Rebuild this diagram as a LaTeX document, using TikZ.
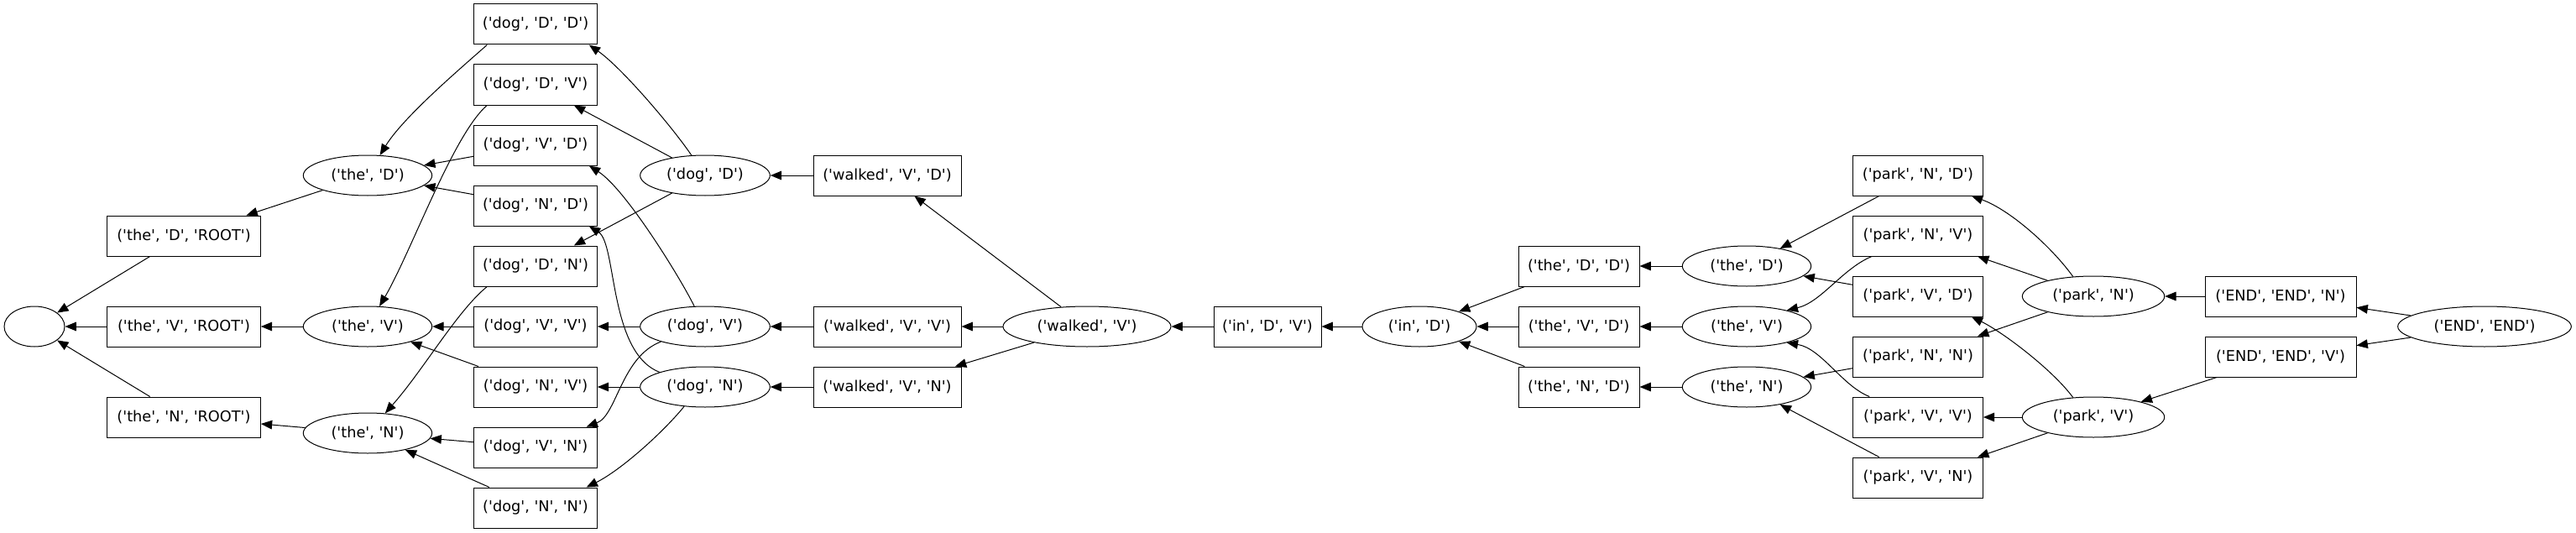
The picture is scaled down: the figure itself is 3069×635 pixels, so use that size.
\documentclass[tikz,border=0pt]{standalone}
\usepackage{fontspec}
\newfontfamily\gvfont{DejaVu Sans}
\usetikzlibrary{arrows.meta,shapes.geometric}
\newcommand{\gvtext}[1]{\makebox[0pt]{#1}}

\begin{document}
\begin{tikzpicture}[x=0.75pt,y=-0.75pt,
	box/.style={draw,rectangle,minimum width=#1,minimum height=36pt,inner sep=0pt},
	oval/.style={draw,ellipse,minimum width=#1,minimum height=36pt,inner sep=0pt},
	conn/.style={draw,line width=0.75pt,-{Triangle[length=10pt,width=8pt]}},
	every node/.style={font=\gvfont\fontsize{13.3}{16}\selectfont,line width=0.75pt}]
	\useasboundingbox (0,0) rectangle (3069,635);
	% start side
	\node at (41,389)[oval=54pt] (root) {};
	\node at (219,281)[box=137pt] (theDR) {('the', 'D', 'ROOT')};
	\node at (219,389)[box=137pt] (theVR) {('the', 'V', 'ROOT')};
	\node at (219,497)[box=137pt] (theNR) {('the', 'N', 'ROOT')};
	\node at (438,209)[oval=115pt] (theD) {\gvtext{('the', 'D')}};
	\node at (438,389)[oval=115pt] (theV) {\gvtext{('the', 'V')}};
	\node at (438,516)[oval=115pt] (theN) {\gvtext{('the', 'N')}};
	% dog
	\node at (638,29)[box=110pt] (dogDD) {('dog', 'D', 'D')};
	\node at (638,101)[box=110pt] (dogDV) {('dog', 'D', 'V')};
	\node at (638,173)[box=110pt] (dogVD) {('dog', 'V', 'D')};
	\node at (638,245)[box=110pt] (dogND) {('dog', 'N', 'D')};
	\node at (638,317)[box=110pt] (dogDN) {('dog', 'D', 'N')};
	\node at (638,389)[box=110pt] (dogVV) {('dog', 'V', 'V')};
	\node at (638,461)[box=110pt] (dogNV) {('dog', 'N', 'V')};
	\node at (638,533)[box=110pt] (dogVN) {('dog', 'V', 'N')};
	\node at (638,605)[box=110pt] (dogNN) {('dog', 'N', 'N')};
	\node at (840,209)[oval=116pt] (dogD) {\gvtext{('dog', 'D')}};
	\node at (840,389)[oval=116pt] (dogV) {\gvtext{('dog', 'V')}};
	\node at (840,461)[oval=116pt] (dogN) {\gvtext{('dog', 'N')}};
	% walked, in
	\node at (1057,209)[box=132pt] (walkedVD) {('walked', 'V', 'D')};
	\node at (1057,389)[box=132pt] (walkedVV) {('walked', 'V', 'V')};
	\node at (1057,461)[box=132pt] (walkedVN) {('walked', 'V', 'N')};
	\node at (1295,389)[oval=150pt] (walkedV) {\gvtext{('walked', 'V')}};
	\node at (1510,389)[box=96pt] (inDV) {('in', 'D', 'V')};
	\node at (1691,389)[oval=102pt] (inD) {\gvtext{('in', 'D')}};
	% the (second)
	\node at (1881,317)[box=108pt] (theDD) {('the', 'D', 'D')};
	\node at (1881,389)[box=108pt] (theVD) {('the', 'V', 'D')};
	\node at (1881,461)[box=108pt] (theND) {('the', 'N', 'D')};
	\node at (2081,317)[oval=115pt] (theDb) {\gvtext{('the', 'D')}};
	\node at (2081,389)[oval=115pt] (theVb) {\gvtext{('the', 'V')}};
	\node at (2081,461)[oval=115pt] (theNb) {\gvtext{('the', 'N')}};
	% park, end
	\node at (2285,209)[box=116pt] (parkND) {('park', 'N', 'D')};
	\node at (2285,281)[box=116pt] (parkNV) {('park', 'N', 'V')};
	\node at (2285,353)[box=116pt] (parkVD) {('park', 'V', 'D')};
	\node at (2285,425)[box=116pt] (parkNN) {('park', 'N', 'N')};
	\node at (2285,497)[box=116pt] (parkVV) {('park', 'V', 'V')};
	\node at (2285,569)[box=116pt] (parkVN) {('park', 'V', 'N')};
	\node at (2494,353)[oval=127pt] (parkN) {\gvtext{('park', 'N')}};
	\node at (2494,497)[oval=127pt] (parkV) {\gvtext{('park', 'V')}};
	\node at (2717,353)[box=135pt] (endN) {('END', 'END', 'N')};
	\node at (2717,425)[box=135pt] (endV) {('END', 'END', 'V')};
	\node at (2960,389)[oval=155pt] (endend) {\gvtext{('END', 'END')}};

	\draw[conn] (theDR) -- (root);
	\draw[conn] (theVR) -- (root);
	\draw[conn] (theNR) -- (root);
	\draw[conn] (theD) -- (theDR);
	\draw[conn] (theV) -- (theVR);
	\draw[conn] (theN) -- (theNR);
	\draw[conn] (dogDD.203) .. controls (548,82) and (480,140) .. (theD);
	\draw[conn] (dogDV.203) .. controls (540,160) and (490,300) .. (theV);
	\draw[conn] (dogDN.203) .. controls (545,370) and (505,440) .. (theN);
	\draw[conn] (dogVD) -- (theD);
	\draw[conn] (dogND) -- (theD);
	\draw[conn] (dogVV) -- (theV);
	\draw[conn] (dogNV) -- (theV);
	\draw[conn] (dogVN) -- (theN);
	\draw[conn] (dogNN) -- (theN);
	\draw[conn] (dogD.124) .. controls (800,150) and (740,80) .. (dogDD.-21);
	\draw[conn] (dogD) -- (dogDV);
	\draw[conn] (dogD) -- (dogDN);
	\draw[conn] (dogV.118) .. controls (810,330) and (745,225) .. (dogVD.-21);
	\draw[conn] (dogV) -- (dogVV);
	\draw[conn] (dogV.199) .. controls (740,425) and (735,495) .. (dogVN.22);
	\draw[conn] (dogN.162) .. controls (725,420) and (735,290) .. (dogND.-21);
	\draw[conn] (dogN) -- (dogNV);
	\draw[conn] (dogN.223) .. controls (790,515) and (740,560) .. (dogNN.22);
	\draw[conn] (walkedVD) -- (dogD);
	\draw[conn] (walkedVV) -- (dogV);
	\draw[conn] (walkedVN) -- (dogN);
	\draw[conn] (walkedV) -- (walkedVD);
	\draw[conn] (walkedV) -- (walkedVV);
	\draw[conn] (walkedV) -- (walkedVN);
	\draw[conn] (inDV) -- (walkedV);
	\draw[conn] (inD) -- (inDV);
	\draw[conn] (theDD) -- (inD);
	\draw[conn] (theVD) -- (inD);
	\draw[conn] (theND) -- (inD);
	\draw[conn] (theDb) -- (theDD);
	\draw[conn] (theVb) -- (theVD);
	\draw[conn] (theNb) -- (theND);
	\draw[conn] (parkND) -- (theDb);
	\draw[conn] (parkVD) -- (theDb);
	\draw[conn] (parkNV.204) .. controls (2195,320) and (2170,360) .. (theVb.22);
	\draw[conn] (parkVV.157) .. controls (2195,460) and (2170,415) .. (theVb.-22);
	\draw[conn] (parkNN) -- (theNb);
	\draw[conn] (parkVN) -- (theNb);
	\draw[conn] (parkN.136) .. controls (2445,295) and (2395,250) .. (parkND.-21);
	\draw[conn] (parkN) -- (parkNV);
	\draw[conn] (parkN) -- (parkNN);
	\draw[conn] (parkV.136) .. controls (2445,440) and (2385,395) .. (parkVD.-21);
	\draw[conn] (parkV) -- (parkVV);
	\draw[conn] (parkV) -- (parkVN);
	\draw[conn] (endN) -- (parkN);
	\draw[conn] (endV) -- (parkV);
	\draw[conn] (endend) -- (endN);
	\draw[conn] (endend) -- (endV);
\end{tikzpicture}
\end{document}
